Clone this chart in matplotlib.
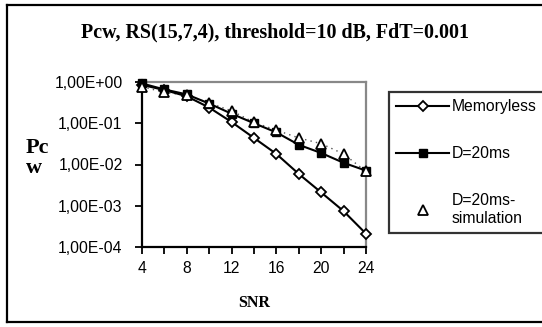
import numpy as np
import matplotlib
matplotlib.use('Agg')
import matplotlib.pyplot as plt
from matplotlib.ticker import FuncFormatter, FixedLocator
from matplotlib.lines import Line2D

snr = [4, 6, 8, 10, 12, 14, 16, 18, 20, 22, 24]
memoryless = [0.85, 0.64, 0.45, 0.24, 0.107, 0.044, 0.018, 0.0059, 0.0021, 0.00074, 0.00021]
d20 = [0.92, 0.66, 0.50, 0.30, 0.17, 0.10, 0.060, 0.030, 0.019, 0.011, 0.0071]
d20_sim = [0.77, 0.56, 0.48, 0.31, 0.20, 0.105, 0.068, 0.044, 0.032, 0.018, 0.0068]

title = 'Pcw, RS(15,7,4), threshold=10 dB, FdT=0.001'
labels = ['Memoryless', 'D=20ms', 'D=20ms-\nsimulation']

plt.rcParams['font.family'] = ['Liberation Sans', 'DejaVu Sans']
W, H = 542, 327
fig = plt.figure(figsize=(W / 100, H / 100), dpi=100)
ax = fig.add_axes([142 / W, 1 - 247 / H, (366 - 142) / W, (247 - 82) / H])

ax.plot(snr, d20_sim, linestyle=(0, (1, 3)), color='#555555', lw=1.0, label='_nolegend_', clip_on=False)
ax.plot(snr, memoryless, color='black', lw=1.5, marker='D', ms=5.5, mfc='white', mec='black', mew=1.3,
        label=labels[0], clip_on=False, zorder=3)
ax.plot(snr, d20, color='black', lw=1.5, marker='s', ms=6, mfc='black', mec='black',
        label=labels[1], clip_on=False, zorder=4)
ax.plot(snr, d20_sim, linestyle='none', marker='^', ms=7.5, mfc='white', mec='black', mew=1.3,
        label=labels[2], clip_on=False, zorder=5)

ax.set_yscale('log')
ax.set_ylim(1e-4, 1)
ax.set_xlim(4, 24)
ax.yaxis.set_major_locator(FixedLocator([1e-4, 1e-3, 1e-2, 1e-1, 1]))
ax.yaxis.set_minor_locator(FixedLocator([]))
ax.yaxis.set_major_formatter(FuncFormatter(lambda v, p: f'{v:.2E}'.replace('.', ',')))
ax.xaxis.set_major_locator(FixedLocator(snr))
ax.xaxis.set_major_formatter(FuncFormatter(lambda v, p: f'{int(v)}' if int(v) % 4 == 0 else ''))
ax.tick_params(axis='both', direction='out', length=5, width=1.3, labelsize=11.3, color='black')
ax.tick_params(axis='x', pad=5)
ax.tick_params(axis='y', pad=9)

for s in ['left', 'bottom']:
    ax.spines[s].set_color('black')
    ax.spines[s].set_linewidth(1.6)
for s in ['top', 'right']:
    ax.spines[s].set_color('#888888')
    ax.spines[s].set_linewidth(1.6)

fig.text(275 / W, 1 - 32 / H, title, ha='center', va='center', fontsize=14.4, fontweight='bold',
         family='Liberation Serif')
fig.text(26 / W, 1 - 158 / H, 'Pc\nw', ha='left', va='center', fontsize=16, fontweight='bold',
         family='Liberation Serif', linespacing=1.0)
fig.text(254 / W, 1 - 303 / H, 'SNR', ha='center', va='center', fontsize=11.5, fontweight='bold',
         family='Liberation Serif')

leg = ax.legend(loc='upper left', bbox_to_anchor=(389 / W, 1 - 92 / H, 0.4, 0.0),
                bbox_transform=fig.transFigure, mode='expand', fontsize=11.3, frameon=True,
                fancybox=False, borderpad=0.45, labelspacing=2.05, handlelength=3.4,
                handletextpad=0.15, numpoints=1, borderaxespad=0)
leg.get_frame().set_edgecolor('black')
leg.get_frame().set_linewidth(1.6)

# outer chart frame (right side runs past the image edge)
for xs, ys in [([7 / W, 7 / W], [5 / H, 1 - 5 / H]),
               ([7 / W, 1.01], [1 - 5 / H, 1 - 5 / H]),
               ([7 / W, 1.01], [5 / H, 5 / H])]:
    fig.add_artist(Line2D(xs, ys, transform=fig.transFigure, color='black', lw=1.6))

fig.savefig('out.png', dpi=100)
